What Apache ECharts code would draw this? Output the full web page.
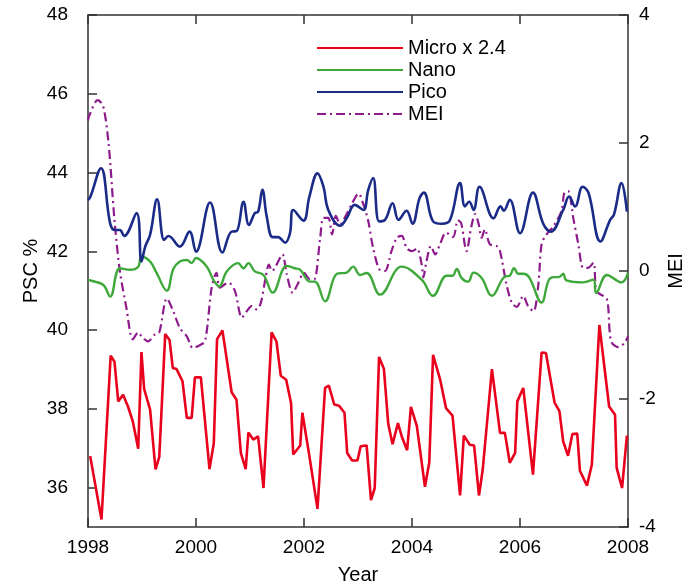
<!DOCTYPE html>
<html>
<head>
<meta charset="utf-8">
<script src="https://cdn.jsdelivr.net/npm/echarts@6/dist/echarts.min.js"></script>
<style>
html,body{margin:0;padding:0;background:#fff;}
#chart{width:699px;height:586px;}
</style>
</head>
<body>
<div id="chart"></div>
<script>
// ---- data ----
var seriesNames = ['Micro x 2.4', 'Nano', 'Pico', 'MEI'];
var leftTicks = [36, 38, 40, 42, 44, 46, 48];

var micro = [
[1998.04,36.8],[1998.25,35.19],[1998.42,39.35],[1998.49,39.2],[1998.56,38.19],[1998.65,38.36],
[1998.74,38.06],[1998.83,37.68],[1998.93,36.99],[1998.99,39.44],[1999.04,38.5],[1999.15,37.98],
[1999.25,36.46],[1999.32,36.78],[1999.43,39.9],[1999.51,39.75],[1999.57,39.04],[1999.64,39.01],
[1999.75,38.7],[1999.83,37.77],[1999.92,37.77],[1999.98,38.8],[2000.09,38.8],[2000.25,36.47],
[2000.33,37.13],[2000.39,39.77],[2000.49,39.99],[2000.66,38.42],[2000.75,38.23],[2000.83,36.88],
[2000.92,36.47],[2000.97,37.4],[2001.06,37.22],[2001.15,37.3],[2001.25,35.99],[2001.40,39.94],
[2001.49,39.71],[2001.57,38.84],[2001.67,38.74],[2001.76,38.15],[2001.80,36.84],[2001.93,37.07],
[2001.97,37.9],[2002.11,36.71],[2002.25,35.46],[2002.39,38.53],[2002.46,38.59],[2002.56,38.11],
[2002.65,38.08],[2002.75,37.9],[2002.80,36.88],[2002.89,36.69],[2002.99,36.69],[2003.05,37.05],
[2003.16,37.07],[2003.24,35.68],[2003.31,35.99],[2003.39,39.32],[2003.48,39.01],[2003.56,37.62],
[2003.64,37.1],[2003.74,37.64],[2003.81,37.3],[2003.91,36.95],[2003.98,38.05],[2004.09,37.56],
[2004.24,36.02],[2004.32,36.64],[2004.39,39.37],[2004.52,38.75],[2004.63,38.02],[2004.75,37.83],
[2004.89,35.8],[2004.96,37.32],[2005.07,37.09],[2005.15,37.07],[2005.24,35.8],[2005.31,36.46],
[2005.48,39.01],[2005.63,37.39],[2005.72,37.39],[2005.81,36.63],[2005.91,36.88],[2005.95,38.19],
[2006.06,38.53],[2006.24,36.33],[2006.40,39.43],[2006.48,39.42],[2006.64,38.16],[2006.73,37.94],
[2006.80,37.17],[2006.89,36.81],[2006.97,37.36],[2007.06,37.37],[2007.11,36.43],[2007.24,36.05],
[2007.33,36.58],[2007.47,40.13],[2007.65,38.06],[2007.76,37.85],[2007.79,36.5],[2007.89,35.99],
[2007.98,37.32]
];

var nano = [
[1998.00,41.28],[1998.04,41.26],[1998.28,41.15],[1998.41,40.85],[1998.59,41.57],[1998.78,41.53],
[1998.93,41.61],[1998.99,41.87],[1999.15,41.74],[1999.27,41.45],[1999.46,41.0],[1999.58,41.55],
[1999.70,41.74],[1999.83,41.78],[1999.92,41.70],[2000.00,41.83],[2000.20,41.61],[2000.32,41.28],
[2000.43,41.11],[2000.57,41.49],[2000.78,41.70],[2000.88,41.57],[2000.97,41.70],[2001.09,41.49],
[2001.25,41.40],[2001.42,40.95],[2001.68,41.63],[2001.83,41.57],[2001.93,41.53],[2002.11,41.23],
[2002.20,41.23],[2002.39,40.73],[2002.61,41.43],[2002.79,41.46],[2002.91,41.61],[2003.04,41.40],
[2003.16,41.45],[2003.41,40.9],[2003.81,41.61],[2004.18,41.28],[2004.39,40.87],[2004.64,41.38],
[2004.75,41.38],[2004.83,41.55],[2004.92,41.32],[2005.04,41.23],[2005.14,41.46],[2005.29,41.32],
[2005.48,40.87],[2005.72,41.36],[2005.81,41.38],[2005.89,41.57],[2005.97,41.43],[2006.06,41.43],
[2006.17,41.34],[2006.40,40.70],[2006.56,41.32],[2006.74,41.36],[2006.80,41.43],[2006.86,41.26],
[2007.17,41.21],[2007.36,41.28],[2007.41,40.94],[2007.61,41.40],[2007.88,41.21],[2008.00,41.45]
];

var pico = [
[1998.00,43.3],[1998.04,43.37],[1998.24,44.11],[1998.41,42.71],[1998.50,42.54],[1998.59,42.54],
[1998.67,42.39],[1998.90,42.97],[1998.99,41.74],[1999.06,42.12],[1999.15,42.42],[1999.28,43.32],
[1999.41,42.29],[1999.49,42.39],[1999.70,42.12],[1999.88,42.5],[2000.00,41.99],[2000.26,43.24],
[2000.49,41.97],[2000.66,42.5],[2000.75,42.51],[2000.88,43.26],[2000.98,42.67],[2001.09,42.97],
[2001.15,43.0],[2001.23,43.56],[2001.31,42.88],[2001.42,42.36],[2001.52,42.36],[2001.65,42.22],
[2001.74,42.46],[2001.80,43.05],[2001.99,42.78],[2002.10,43.39],[2002.25,43.98],[2002.36,43.64],
[2002.45,43.05],[2002.67,42.65],[2002.79,42.84],[2002.94,43.18],[2003.10,43.05],[2003.19,43.56],
[2003.28,43.86],[2003.39,42.76],[2003.50,42.8],[2003.64,43.22],[2003.75,42.8],[2003.90,43.03],
[2004.01,42.7],[2004.14,43.35],[2004.22,43.49],[2004.39,42.76],[2004.55,42.7],[2004.70,42.78],
[2004.89,43.73],[2004.98,43.14],[2005.06,43.26],[2005.14,43.05],[2005.25,43.64],[2005.51,42.84],
[2005.64,43.14],[2005.70,43.03],[2005.81,43.31],[2006.00,42.46],[2006.24,43.49],[2006.43,42.7],
[2006.57,42.5],[2006.80,43.05],[2006.91,43.39],[2007.02,43.14],[2007.16,43.64],[2007.27,43.48],
[2007.49,42.25],[2007.67,42.8],[2007.74,42.93],[2007.88,43.73],[2007.98,43.01]
];

var mei = [
[1998.00,2.35],[1998.02,2.42],[1998.18,2.67],[1998.28,2.58],[1998.38,2.0],[1998.49,0.8],[1998.59,0.0],
[1998.71,-0.57],[1998.83,-1.07],[1998.93,-0.96],[1998.99,-1.02],[1999.11,-1.10],[1999.24,-0.99],
[1999.32,-0.96],[1999.46,-0.43],[1999.58,-0.63],[1999.70,-0.89],[1999.83,-1.02],[1999.94,-1.20],
[2000.07,-1.16],[2000.17,-1.09],[2000.29,-0.26],[2000.38,-0.03],[2000.44,-0.26],[2000.60,-0.18],
[2000.72,-0.31],[2000.85,-0.73],[2000.94,-0.63],[2001.03,-0.55],[2001.12,-0.60],[2001.16,-0.58],
[2001.21,-0.47],[2001.29,-0.10],[2001.35,0.10],[2001.41,0.0],[2001.48,0.08],[2001.60,0.26],
[2001.68,-0.05],[2001.79,-0.34],[2001.88,-0.21],[2002.00,-0.03],[2002.11,-0.13],[2002.19,-0.13],
[2002.30,0.52],[2002.36,0.83],[2002.45,0.83],[2002.52,0.57],[2002.59,0.86],[2002.67,0.73],
[2002.79,0.89],[2002.88,1.04],[2003.01,1.21],[2003.10,1.04],[2003.19,0.78],[2003.28,0.36],
[2003.41,0.01],[2003.50,0.0],[2003.62,0.31],[2003.72,0.52],[2003.81,0.55],[2003.90,0.36],
[2004.00,0.31],[2004.09,0.35],[2004.18,0.10],[2004.21,-0.10],[2004.27,0.16],[2004.35,0.39],
[2004.43,0.26],[2004.52,0.42],[2004.63,0.60],[2004.76,0.53],[2004.85,0.79],[2004.91,0.75],
[2005.01,0.31],[2005.10,0.70],[2005.17,0.89],[2005.23,0.75],[2005.29,0.52],[2005.35,0.65],
[2005.44,0.42],[2005.57,0.39],[2005.63,0.31],[2005.75,-0.21],[2005.85,-0.50],[2005.94,-0.56],
[2006.06,-0.39],[2006.15,-0.55],[2006.25,-0.63],[2006.34,-0.21],[2006.40,0.42],[2006.49,0.57],
[2006.62,0.70],[2006.77,0.94],[2006.82,1.22],[2006.89,1.25],[2006.99,0.81],[2007.08,0.42],
[2007.17,0.05],[2007.26,0.05],[2007.36,0.13],[2007.41,-0.31],[2007.48,-0.36],[2007.61,-0.44],
[2007.66,-0.94],[2007.70,-1.12],[2007.82,-1.19],[2007.94,-1.12],[2008.00,-1.02]
];

// ---- chart ----
var FONT = '"Liberation Sans", Arial, sans-serif';
var AX = '#333333';
var chart = echarts.init(document.getElementById('chart'), null, {renderer: 'canvas'});

function xAxisBase(pos) {
  return {
    type: 'value', min: 1998, max: 2008, interval: 2, position: pos,
    axisLine: {show: true, onZero: false, lineStyle: {color: AX, width: 1.5}},
    axisTick: {show: true, inside: true, length: 9, lineStyle: {color: AX, width: 1.5}},
    splitLine: {show: false}
  };
}
var xBottom = xAxisBase('bottom');
xBottom.name = 'Year';
xBottom.nameLocation = 'middle';
xBottom.nameGap = 38;
xBottom.nameTextStyle = {fontFamily: FONT, fontSize: 20, color: '#000'};
xBottom.axisLabel = {color: '#000', fontSize: 19, fontFamily: FONT, margin: 11, formatter: function (v) { return String(v); }};
var xTop = xAxisBase('top');
xTop.axisLabel = {show: false};

chart.setOption({
  animation: false,
  backgroundColor: '#ffffff',
  textStyle: {fontFamily: FONT},
  grid: {left: 88, right: 71, top: 15, bottom: 59, outerBoundsMode: 'none', containLabel: false},
  legend: {
    orient: 'vertical', left: 311, top: 32,
    itemWidth: 86, itemHeight: 14, itemGap: 0,
    itemStyle: {opacity: 0},
    textStyle: {fontFamily: FONT, fontSize: 20, lineHeight: 22, color: '#000'},
    data: seriesNames
  },
  xAxis: [xBottom, xTop],
  yAxis: [{
    type: 'value', min: 35, max: 48, position: 'left',
    name: 'PSC %', nameLocation: 'middle', nameGap: 47, nameRotate: 90, nameMoveOverlap: false,
    nameTextStyle: {fontFamily: FONT, fontSize: 20, color: '#000'},
    axisLine: {show: true, onZero: false, lineStyle: {color: AX, width: 1.5}},
    axisTick: {show: true, inside: true, length: 9, customValues: leftTicks, lineStyle: {color: AX, width: 1.5}},
    axisLabel: {color: '#000', fontSize: 19, fontFamily: FONT, margin: 20, customValues: leftTicks},
    splitLine: {show: false}
  }, {
    type: 'value', min: -4, max: 4, interval: 2, position: 'right',
    name: 'MEI', nameLocation: 'middle', nameGap: 37, nameRotate: 90,
    nameTextStyle: {fontFamily: FONT, fontSize: 20, color: '#000'},
    axisLine: {show: true, onZero: false, lineStyle: {color: AX, width: 1.5}},
    axisTick: {show: true, inside: true, length: 9, lineStyle: {color: AX, width: 1.5}},
    axisLabel: {color: '#000', fontSize: 19, fontFamily: FONT, margin: 11},
    splitLine: {show: false}
  }],
  series: [{
    name: seriesNames[0], type: 'line', data: micro, xAxisIndex: 0, yAxisIndex: 0,
    symbol: 'none', smooth: false, z: 5,
    lineStyle: {color: '#e8001c', width: 2.6}, itemStyle: {color: '#e8001c'}
  }, {
    name: seriesNames[1], type: 'line', data: nano, xAxisIndex: 0, yAxisIndex: 0,
    symbol: 'none', smooth: 0.4, z: 3,
    lineStyle: {color: '#3ea83a', width: 2.4}, itemStyle: {color: '#3ea83a'}
  }, {
    name: seriesNames[2], type: 'line', data: pico, xAxisIndex: 0, yAxisIndex: 0,
    symbol: 'none', smooth: 0.4, z: 4,
    lineStyle: {color: '#1b2b88', width: 2.6}, itemStyle: {color: '#1b2b88'}
  }, {
    name: seriesNames[3], type: 'line', data: mei, xAxisIndex: 0, yAxisIndex: 1,
    symbol: 'none', smooth: 0.3, z: 2,
    lineStyle: {color: '#8e1b8c', width: 2.2, type: [9, 4, 2, 4]}, itemStyle: {color: '#8e1b8c'}
  }]
});
</script>
</body>
</html>
